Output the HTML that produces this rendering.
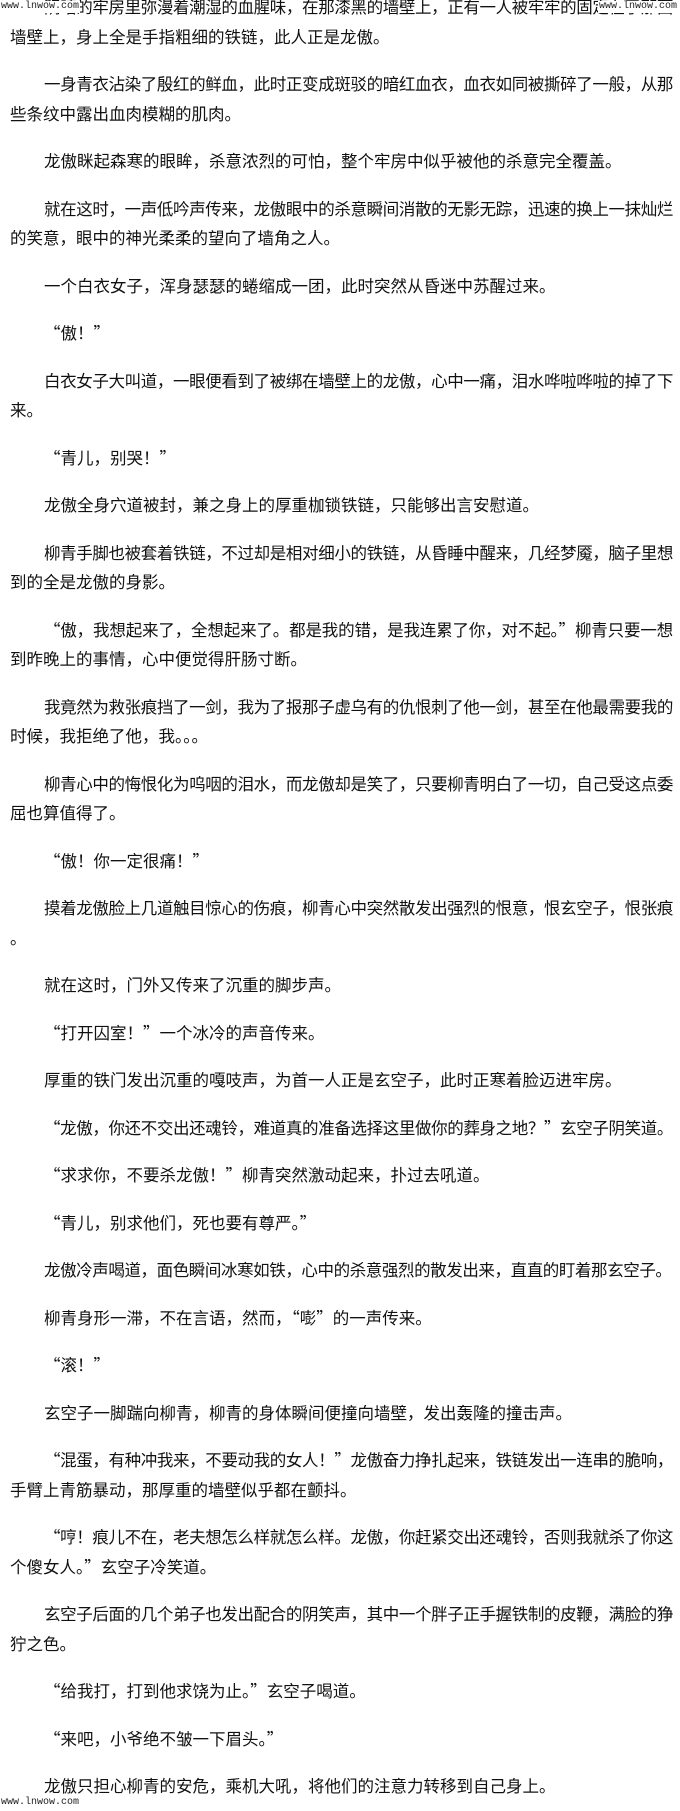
<!DOCTYPE html>
<html><head><meta charset="utf-8"><style>
html,body{margin:0;padding:0;background:#fff;width:680px;height:1811px;overflow:hidden;position:relative}
#c{position:absolute;left:10px;top:-8px;width:663px;font-family:"Noto Sans CJK SC","Liberation Sans",sans-serif;font-size:16.5px;color:#111;line-height:29.5px}
.p{margin:0 0 18px 0}
.p div{box-sizing:border-box;width:663px;overflow:hidden}
.l{white-space:nowrap;text-align:justify;text-align-last:justify}
.e{white-space:nowrap}
.i{padding-left:34px}
#m{position:absolute;left:0;top:-100px;white-space:nowrap;font-family:"Noto Sans CJK SC","Liberation Sans",sans-serif;font-size:16.5px;visibility:hidden}
.wm{position:absolute;font-family:"Liberation Mono",monospace;font-size:10px;color:#222;background:#fff;line-height:12px;padding:0 1px}
</style></head><body>
<span id="m">一一一一一一一一一一一一一一一一一一一一一一一一一一一一一一一一一一一一一一一一</span>
<div id="c">
<div class="p"><div class="l i">阴暗的牢房里弥漫着潮湿的血腥味，在那漆黑的墙壁上，正有一人被牢牢的固定在了那面</div><div class="e">墙壁上，身上全是手指粗细的铁链，此人正是龙傲。</div></div>
<div class="p"><div class="l i">一身青衣沾染了殷红的鲜血，此时正变成斑驳的暗红血衣，血衣如同被撕碎了一般，从那</div><div class="e">些条纹中露出血肉模糊的肌肉。</div></div>
<div class="p"><div class="e i">龙傲眯起森寒的眼眸，杀意浓烈的可怕，整个牢房中似乎被他的杀意完全覆盖。</div></div>
<div class="p"><div class="l i">就在这时，一声低吟声传来，龙傲眼中的杀意瞬间消散的无影无踪，迅速的换上一抹灿烂</div><div class="e">的笑意，眼中的神光柔柔的望向了墙角之人。</div></div>
<div class="p"><div class="e i">一个白衣女子，浑身瑟瑟的蜷缩成一团，此时突然从昏迷中苏醒过来。</div></div>
<div class="p"><div class="e i">“傲！”</div></div>
<div class="p"><div class="l i">白衣女子大叫道，一眼便看到了被绑在墙壁上的龙傲，心中一痛，泪水哗啦哗啦的掉了下</div><div class="e">来。</div></div>
<div class="p"><div class="e i">“青儿，别哭！”</div></div>
<div class="p"><div class="e i">龙傲全身穴道被封，兼之身上的厚重枷锁铁链，只能够出言安慰道。</div></div>
<div class="p"><div class="l i">柳青手脚也被套着铁链，不过却是相对细小的铁链，从昏睡中醒来，几经梦魇，脑子里想</div><div class="e">到的全是龙傲的身影。</div></div>
<div class="p"><div class="l i">“傲，我想起来了，全想起来了。都是我的错，是我连累了你，对不起。”柳青只要一想</div><div class="e">到昨晚上的事情，心中便觉得肝肠寸断。</div></div>
<div class="p"><div class="l i">我竟然为救张痕挡了一剑，我为了报那子虚乌有的仇恨刺了他一剑，甚至在他最需要我的</div><div class="e">时候，我拒绝了他，我。。。</div></div>
<div class="p"><div class="l i">柳青心中的悔恨化为呜咽的泪水，而龙傲却是笑了，只要柳青明白了一切，自己受这点委</div><div class="e">屈也算值得了。</div></div>
<div class="p"><div class="e i">“傲！你一定很痛！”</div></div>
<div class="p"><div class="l i">摸着龙傲脸上几道触目惊心的伤痕，柳青心中突然散发出强烈的恨意，恨玄空子，恨张痕</div><div class="e">。</div></div>
<div class="p"><div class="e i">就在这时，门外又传来了沉重的脚步声。</div></div>
<div class="p"><div class="e i">“打开囚室！”一个冰冷的声音传来。</div></div>
<div class="p"><div class="e i">厚重的铁门发出沉重的嘎吱声，为首一人正是玄空子，此时正寒着脸迈进牢房。</div></div>
<div class="p"><div class="l i">“龙傲，你还不交出还魂铃，难道真的准备选择这里做你的葬身之地？”玄空子阴笑道。</div></div>
<div class="p"><div class="e i">“求求你，不要杀龙傲！”柳青突然激动起来，扑过去吼道。</div></div>
<div class="p"><div class="e i">“青儿，别求他们，死也要有尊严。”</div></div>
<div class="p"><div class="e i">龙傲冷声喝道，面色瞬间冰寒如铁，心中的杀意强烈的散发出来，直直的盯着那玄空子。</div></div>
<div class="p"><div class="e i">柳青身形一滞，不在言语，然而，“嘭”的一声传来。</div></div>
<div class="p"><div class="e i">“滚！”</div></div>
<div class="p"><div class="e i">玄空子一脚踹向柳青，柳青的身体瞬间便撞向墙壁，发出轰隆的撞击声。</div></div>
<div class="p"><div class="l i">“混蛋，有种冲我来，不要动我的女人！”龙傲奋力挣扎起来，铁链发出一连串的脆响，</div><div class="e">手臂上青筋暴动，那厚重的墙壁似乎都在颤抖。</div></div>
<div class="p"><div class="l i">“哼！痕儿不在，老夫想怎么样就怎么样。龙傲，你赶紧交出还魂铃，否则我就杀了你这</div><div class="e">个傻女人。”玄空子冷笑道。</div></div>
<div class="p"><div class="l i">玄空子后面的几个弟子也发出配合的阴笑声，其中一个胖子正手握铁制的皮鞭，满脸的狰</div><div class="e">狞之色。</div></div>
<div class="p"><div class="e i">“给我打，打到他求饶为止。”玄空子喝道。</div></div>
<div class="p"><div class="e i">“来吧，小爷绝不皱一下眉头。”</div></div>
<div class="p"><div class="e i">龙傲只担心柳青的安危，乘机大吼，将他们的注意力转移到自己身上。</div></div>
</div>
<div class="wm" style="left:0;top:1px">www.lnwow.com</div>
<div class="wm" style="left:598px;top:1px">www.lnwow.com</div>
<div class="wm" style="left:0;top:1797px">www.lnwow.com</div>
<script>
(function(){
var m=document.getElementById('m');
var adv=m.getBoundingClientRect().width/40;
var ls=16.5-adv;
document.getElementById('c').style.letterSpacing=ls+'px';
var all=document.querySelectorAll('.p div');
for(var k=0;k<all.length;k++){
  var d=all[k];
  if(d.scrollWidth>d.clientWidth+1){
    var n=d.textContent.length;
    var extra=d.scrollWidth-d.clientWidth+1;
    d.style.letterSpacing=(ls-extra/n)+'px';
  }
}
})();
</script>
</body></html>
